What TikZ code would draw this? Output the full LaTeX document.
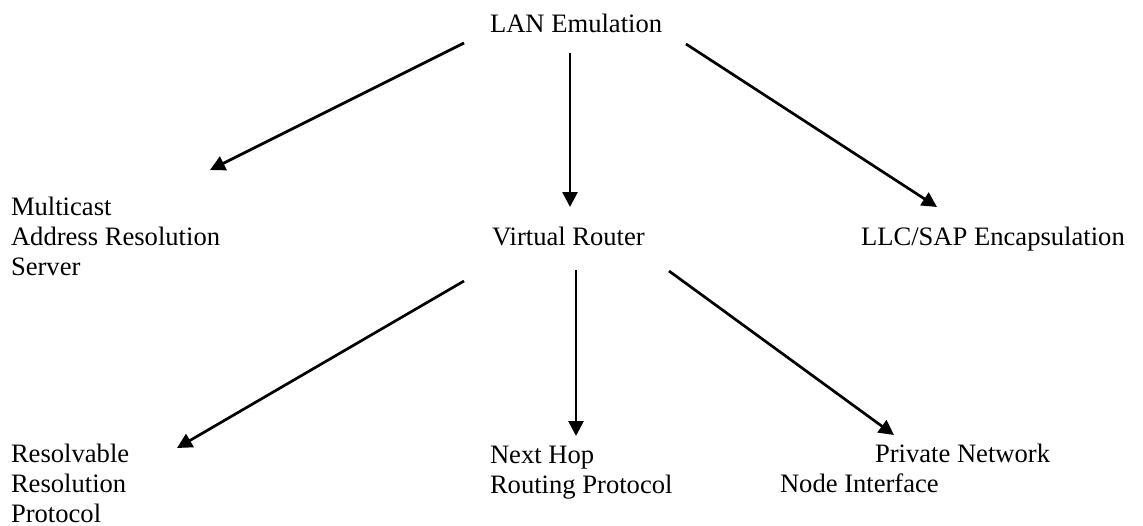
\documentclass[tikz,border=0pt]{standalone}
\usepackage{fontspec}
\setmainfont{Liberation Serif}
\usetikzlibrary{arrows.meta}
\begin{document}
\begin{tikzpicture}[x=1pt,y=-1pt,
  lbl/.style={anchor=base west,inner sep=0pt,outer sep=0pt,font=\fontsize{26.6}{30}\selectfont},
  arr/.style={line width=2.7pt,-{Triangle[length=15pt,width=15pt]}}]
\useasboundingbox (0,0) rectangle (1143,525);
\node[lbl] (lan) at (490,32) {LAN Emulation};
\node[lbl] (mars) at (11,215) {\begin{tabular}[t]{@{}l@{}}Multicast\\Address Resolution\\Server\end{tabular}};
\node[lbl] (vr) at (492,245) {Virtual Router};
\node[lbl] (llc) at (861,245) {LLC/SAP Encapsulation};
\node[lbl] (rrp) at (11,462) {\begin{tabular}[t]{@{}l@{}}Resolvable\\Resolution\\Protocol\end{tabular}};
\node[lbl] (nhrp) at (490,463) {\begin{tabular}[t]{@{}l@{}}Next Hop\\Routing Protocol\end{tabular}};
\node[lbl] (pnni) at (780,462) {\begin{tabular}[t]{@{}l@{}}\hspace*{95pt}Private Network\\Node Interface\end{tabular}};
% connector end points
\coordinate (lanL) at (464,43);
\coordinate (lanM) at (570,53);
\coordinate (lanR) at (686,44);
\coordinate (marsT) at (210,170);
\coordinate (vrT) at (570,207);
\coordinate (llcT) at (937,207);
\coordinate (vrL) at (464,281);
\coordinate (vrM) at (576,270);
\coordinate (vrR) at (669,271);
\coordinate (rrpT) at (177,448);
\coordinate (nhrpT) at (576,436);
\coordinate (pnniT) at (894,435);
\draw[arr] (lanL) -- (marsT);
\draw[arr] (lanM) -- (vrT);
\draw[arr] (lanR) -- (llcT);
\draw[arr] (vrL) -- (rrpT);
\draw[arr] (vrM) -- (nhrpT);
\draw[arr] (vrR) -- (pnniT);
\end{tikzpicture}
\end{document}
